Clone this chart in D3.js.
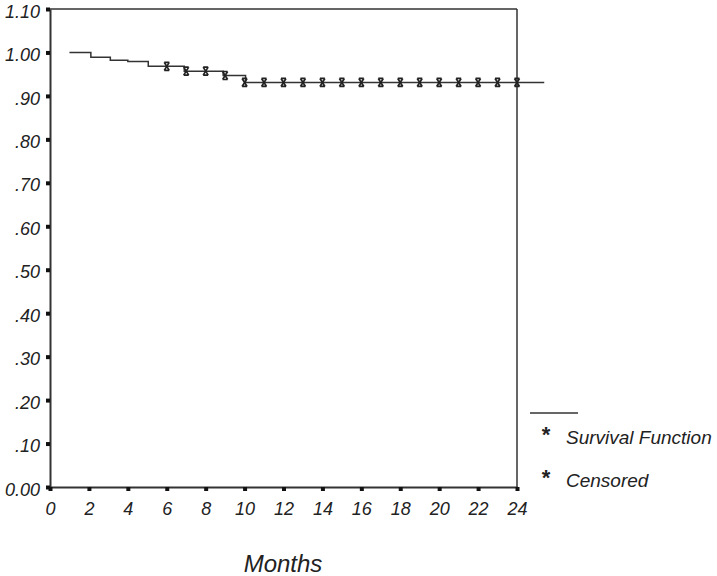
<!DOCTYPE html>
<html><head><meta charset="utf-8">
<script src="https://cdn.jsdelivr.net/npm/d3@7"></script>
<style>body{margin:0;background:#fff}svg{display:block}text{font-family:"Liberation Sans",Arial,sans-serif;font-style:italic;fill:#222}</style>
</head><body><svg id="c" width="717" height="576"></svg>
<script>
const stepTimes = [1, 2.1, 3.1, 4.0, 5.05, 6.9, 8.9, 10.05, 25.4];
const stepSurv  = [1.000, 0.989, 0.982, 0.979, 0.968, 0.957, 0.947, 0.931, 0.931];
const censoredTimes = [6,7,8,9,10,11,12,13,14,15,16,17,18,19,20,21,22,23,24];
const censoredSurv  = [0.968,0.957,0.957,0.947,0.931,0.931,0.931,0.931,0.931,0.931,0.931,0.931,0.931,0.931,0.931,0.931,0.931,0.931,0.931];
const xTicks = [0,2,4,6,8,10,12,14,16,18,20,22,24];
const yTicks = [0,0.1,0.2,0.3,0.4,0.5,0.6,0.7,0.8,0.9,1.0,1.1];
const legendLabels = ["Survival Function","Censored"];
const xTitle = "Months";

const svg = d3.select("#c");
const x = d3.scaleLinear().domain([0,24]).range([50,517]);
const y = d3.scaleLinear().domain([0,1.1]).range([487,9]);
const ink = "#333";

const fmt = v => v === 0 ? "0.00" : (v >= 1 ? d3.format(".2f")(v) : d3.format(".2f")(v).replace(/^0/,""));

// frame
svg.append("line").attr("x1",x(0)).attr("x2",x(24)).attr("y1",y(1.1)).attr("y2",y(1.1)).attr("stroke",ink).attr("stroke-width",1.5);
svg.append("line").attr("x1",x(24)).attr("x2",x(24)).attr("y1",y(1.1)).attr("y2",y(0)).attr("stroke",ink).attr("stroke-width",1.5);

// axes
const yAxis = d3.axisLeft(y).tickValues(yTicks).tickSize(0).tickPadding(10).tickFormat(fmt);
const gy = svg.append("g").attr("transform",`translate(${x(0)},0)`).call(yAxis);
gy.select(".domain").attr("stroke",ink).attr("stroke-width",2);
gy.selectAll(".tick text").attr("font-size",18).attr("dy","0.45em").style("font-family","'Liberation Sans',Arial,sans-serif").style("font-style","italic").attr("fill","#222");
gy.selectAll(".tick").append("rect").attr("x",-4).attr("y",-2).attr("width",4).attr("height",4).attr("fill","#111");

const xAxis = d3.axisBottom(x).tickValues(xTicks).tickSize(0).tickPadding(15).tickFormat(d3.format("d"));
const gx = svg.append("g").attr("transform",`translate(0,${y(0)})`).call(xAxis);
gx.select(".domain").attr("stroke",ink).attr("stroke-width",2);
gx.selectAll(".tick text").attr("font-size",18).style("font-family","'Liberation Sans',Arial,sans-serif").style("font-style","italic").attr("fill","#222");
gx.selectAll(".tick").append("rect").attr("x",-2).attr("y",0).attr("width",4).attr("height",4).attr("fill","#111");

// survival step line
const pts = stepTimes.map((t,i)=>[t,stepSurv[i]]);
const line = d3.line().x(d=>x(d[0])).y(d=>y(d[1])).curve(d3.curveStepAfter);
svg.append("path").datum(pts).attr("d",line).attr("fill","none").attr("stroke",ink).attr("stroke-width",1.5);

// censored markers
const mk = "M-2.5,-4H2.5M-2.5,4H2.5M-2.5,-4L2.5,4M2.5,-4L-2.5,4";
svg.selectAll(".cens").data(censoredTimes.map((t,i)=>[t,censoredSurv[i]])).enter()
  .append("path").attr("class","cens").attr("d",mk)
  .attr("transform",d=>`translate(${x(d[0])},${y(d[1])})`)
  .attr("fill","none").attr("stroke","#222").attr("stroke-width",1.7);

// x title
svg.append("text").attr("x",283).attr("y",572).attr("text-anchor","middle").attr("font-size",24).text(xTitle);

// legend
svg.append("line").attr("x1",530).attr("x2",578).attr("y1",413).attr("y2",413).attr("stroke",ink).attr("stroke-width",1.5);
const lg = svg.selectAll(".lg").data(legendLabels).enter().append("g").attr("transform",(d,i)=>`translate(0,${444+i*43})`);
lg.append("text").attr("x",546).attr("y",-2).attr("text-anchor","middle").attr("font-size",22).attr("font-weight","bold").style("font-style","normal").text("*");
lg.append("text").attr("x",566).attr("y",0).attr("font-size",19).text(d=>d);
</script></body></html>
